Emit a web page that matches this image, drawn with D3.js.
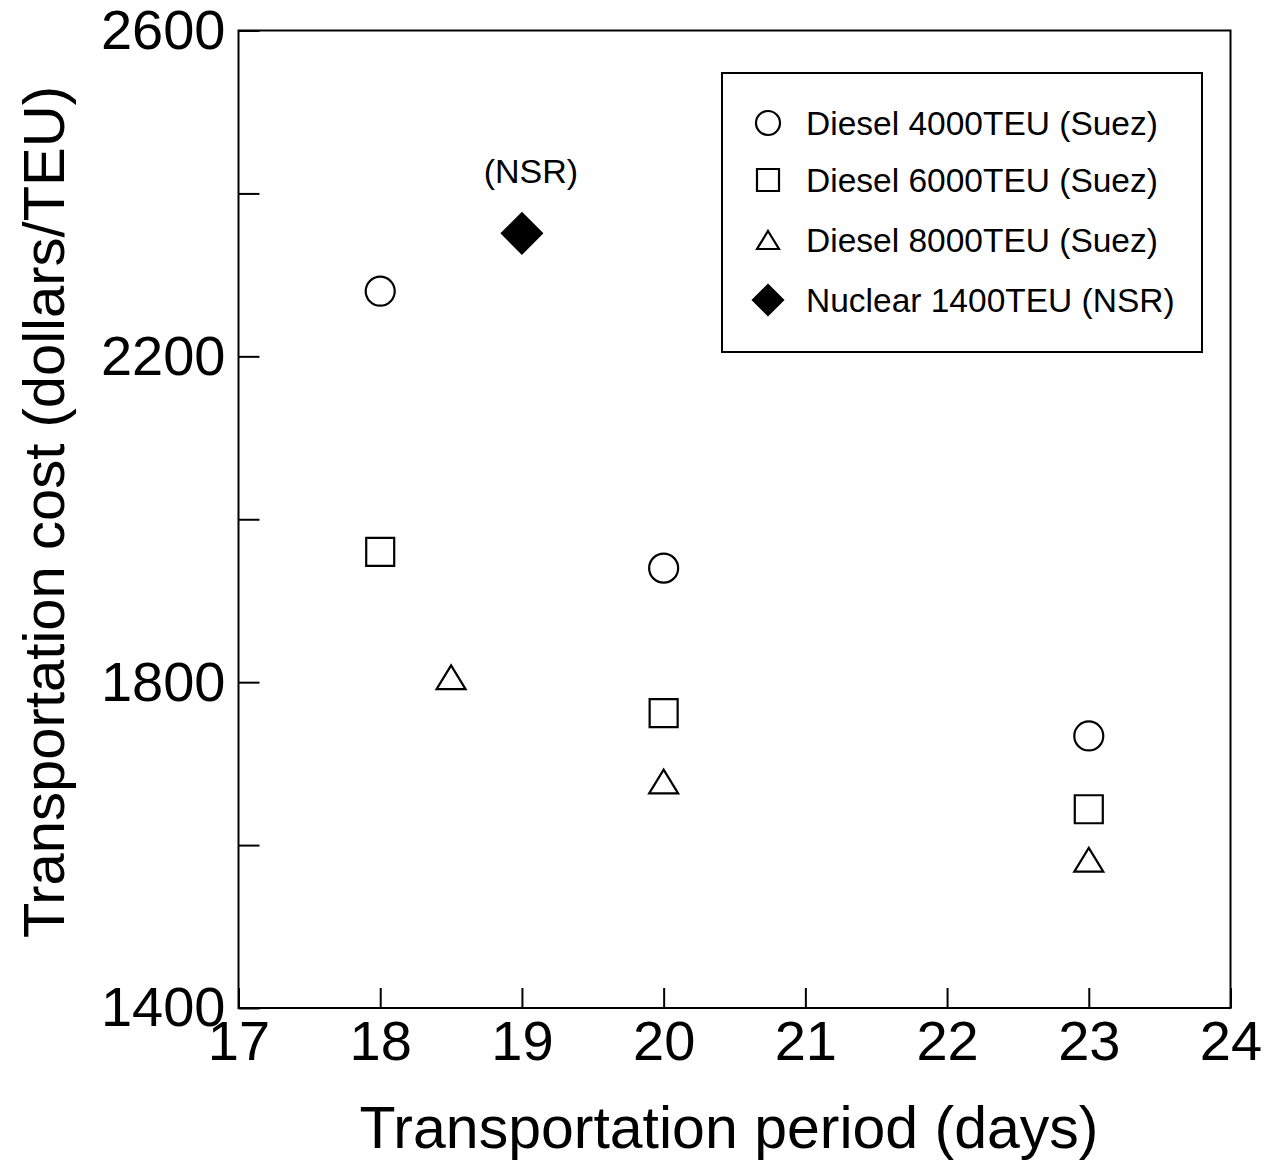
<!DOCTYPE html>
<html lang="en">
<head>
    <meta charset="UTF-8">
    <title>Transportation cost vs period</title>
    <script src="https://d3js.org/d3.v7.min.js"></script>
    <style>
        body {
            margin: 0;
            padding: 0;
            background: #fff;
        }
        svg text {
            font-family: "Liberation Sans", Arial, Helvetica, sans-serif;
            fill: #000;
        }
        .axis path, .axis line {
            stroke: #000;
            stroke-width: 2px;
        }
        .axis text {
            font-size: 56px;
        }
        .marker {
            fill: #fff;
            stroke: #000;
            stroke-width: 2.2px;
        }
    </style>
</head>
<body>
    <svg id="chart" width="1278" height="1161"></svg>

    <script>
        // data
        const seriesNames = [
            "Diesel 4000TEU (Suez)",
            "Diesel 6000TEU (Suez)",
            "Diesel 8000TEU (Suez)",
            "Nuclear 1400TEU (NSR)"
        ];
        const days4000 = [18, 20, 23];
        const cost4000 = [2280, 1940, 1734];
        const days6000 = [18, 20, 23];
        const cost6000 = [1960, 1762, 1644];
        const days8000 = [18.5, 20, 23];
        const cost8000 = [1806, 1678, 1582];
        const daysNuclear = [19];
        const costNuclear = [2351];

        const xTicks = [17, 18, 19, 20, 21, 22, 23, 24];
        const yTicks = [1400, 1600, 1800, 2000, 2200, 2400, 2600];
        const yLabels = [1400, 1800, 2200, 2600];

        const svg = d3.select("#chart");

        const x = d3.scaleLinear().domain([17, 24]).range([238.5, 1230.5]);
        const y = d3.scaleLinear().domain([1400, 2600]).range([1008, 30.5]);

        // marker shapes, s = size
        function shapePath(kind, s) {
            if (kind === "circle") {
                const p = d3.path();
                p.arc(0, 0, s / 2, 0, Math.PI * 2);
                return p.toString();
            }
            if (kind === "square") {
                const h = s / 2;
                return `M${-h},${-h}H${h}V${h}H${-h}Z`;
            }
            if (kind === "triangle") {
                const h = s / 2, th = s * 0.82;
                return `M0,${-th / 2}L${h},${th / 2}L${-h},${th / 2}Z`;
            }
            const h = s / 2; // diamond
            return `M0,${-h}L${h},0L0,${h}L${-h},0Z`;
        }

        const series = [
            { name: seriesNames[0], kind: "circle", days: days4000, cost: cost4000, size: 29, fill: "#fff" },
            { name: seriesNames[1], kind: "square", days: days6000, cost: cost6000, size: 28, fill: "#fff" },
            { name: seriesNames[2], kind: "triangle", days: days8000, cost: cost8000, size: 29, fill: "#fff" },
            { name: seriesNames[3], kind: "diamond", days: daysNuclear, cost: costNuclear, size: 40, fill: "#000" }
        ];

        // frame
        svg.append("rect")
            .attr("x", x(17)).attr("y", y(2600))
            .attr("width", x(24) - x(17)).attr("height", y(1400) - y(2600))
            .attr("fill", "none").attr("stroke", "#000").attr("stroke-width", 2);

        // axes, ticks point inward
        svg.append("g")
            .attr("class", "axis")
            .attr("transform", `translate(0,${y(1400)})`)
            .call(d3.axisBottom(x).tickValues(xTicks).tickFormat(d3.format("d"))
                .tickSizeInner(-20).tickSizeOuter(0).tickPadding(12))
            .call(g => g.select(".domain").remove());

        svg.append("g")
            .attr("class", "axis")
            .attr("transform", `translate(${x(17)},0)`)
            .call(d3.axisLeft(y).tickValues(yTicks).tickSizeInner(-21).tickSizeOuter(0).tickPadding(13)
                .tickFormat(d => yLabels.includes(d) ? d : ""))
            .call(g => g.select(".domain").remove());

        // axis titles
        svg.append("text")
            .attr("x", 729).attr("y", 1148)
            .attr("text-anchor", "middle")
            .style("font-size", "59px")
            .text("Transportation period (days)");

        svg.append("text")
            .attr("transform", "translate(64,512) rotate(-90)")
            .attr("text-anchor", "middle")
            .style("font-size", "58px")
            .text("Transportation cost (dollars/TEU)");

        // points
        series.forEach(s => {
            svg.append("g").selectAll("path")
                .data(s.days.map((d, i) => [d, s.cost[i]]))
                .join("path")
                .attr("class", "marker")
                .attr("transform", d => `translate(${x(d[0])},${y(d[1])})`)
                .attr("d", shapePath(s.kind, s.size))
                .style("fill", s.fill);
        });

        // NSR note above the nuclear point
        svg.append("text")
            .attr("x", x(daysNuclear[0]) + 9).attr("y", y(costNuclear[0]) - 50)
            .attr("text-anchor", "middle")
            .style("font-size", "34px")
            .text("(NSR)");

        // legend
        const legend = svg.append("g").attr("transform", "translate(722,73)");
        legend.append("rect")
            .attr("width", 480).attr("height", 279)
            .attr("fill", "#fff").attr("stroke", "#000").attr("stroke-width", 2);

        const legendSizes = [24, 22, 22, 30];
        const rowY = [50, 107, 167, 227];
        series.forEach((s, i) => {
            legend.append("path")
                .attr("class", "marker")
                .attr("transform", `translate(46,${rowY[i]})`)
                .attr("d", shapePath(s.kind, legendSizes[i]))
                .style("fill", s.fill);
            legend.append("text")
                .attr("x", 84).attr("y", rowY[i] + 12)
                .style("font-size", "33.5px")
                .text(s.name);
        });
    </script>
</body>
</html>
